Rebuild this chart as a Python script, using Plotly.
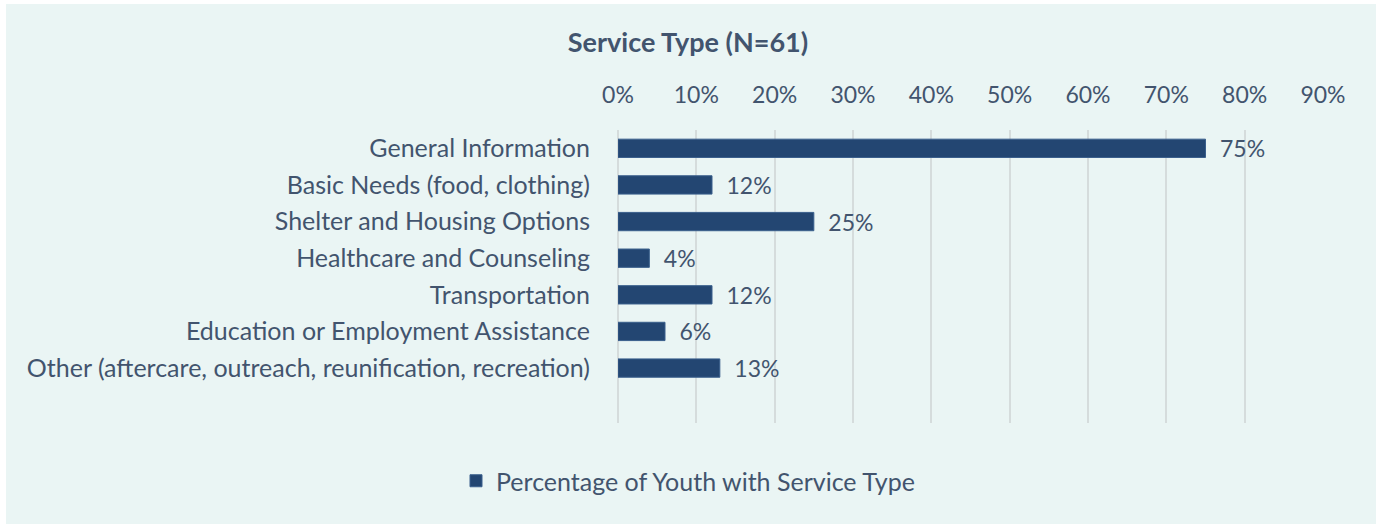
import plotly.graph_objects as go

# Chart data
categories = [
    "General Information",
    "Basic Needs (food, clothing)",
    "Shelter and Housing Options",
    "Healthcare and Counseling",
    "Transportation",
    "Education or Employment Assistance",
    "Other (aftercare, outreach, reunification, recreation)",
]
percentages = [75, 12, 25, 4, 12, 6, 13]
tick_values = [0, 10, 20, 30, 40, 50, 60, 70, 80, 90]
tick_labels = [f"{v}%" for v in tick_values]
series_name = "Percentage of Youth with Service Type"

BAR = "#234672"
TEXT = "#42546E"
BG = "#EAF5F4"
GRID = "#D5DCDC"
FONT = "Lato"
W, H = 1376, 524

fig = go.Figure()
fig.add_trace(go.Bar(
    y=categories,
    x=[p / 100 for p in percentages],
    orientation="h",
    name=series_name,
    width=0.5,
    marker=dict(color=BAR, line=dict(color="#3A5F8C", width=1)),
    text=[f"\u2002{p}%" for p in percentages],
    textposition="outside",
    constraintext="none",
    textfont=dict(family=FONT, size=23, color=TEXT),
    cliponaxis=False,
    showlegend=True,
))

fig.update_layout(
    width=W,
    height=H,
    paper_bgcolor="white",
    plot_bgcolor=BG,
    margin=dict(l=618, r=53, t=130, b=101),
    bargap=0.5,
    title=dict(
        text="<b>Service Type (N=61)</b>",
        x=0.5, xref="container", xanchor="center",
        y=1 - 43 / H, yref="container", yanchor="middle",
        font=dict(family=FONT, size=27, color=TEXT),
    ),
    xaxis=dict(
        side="top",
        range=[0, 0.9],
        tickvals=[v / 100 for v in tick_values],
        ticktext=tick_labels,
        tickfont=dict(family=FONT, size=23, color=TEXT),
        showgrid=True,
        gridcolor=GRID,
        gridwidth=1.5,
        zeroline=True,
        zerolinecolor=GRID,
        zerolinewidth=1.5,
        showline=False,
        ticks="outside",
        ticklen=17,
        tickcolor=BG,
        fixedrange=True,
    ),
    yaxis=dict(
        type="category",
        categoryorder="array",
        categoryarray=categories,
        range=[7.5, -0.5],
        tickfont=dict(family=FONT, size=25, color=TEXT),
        showgrid=False,
        zeroline=False,
        showline=False,
        ticks="outside",
        ticklen=22,
        tickcolor=BG,
    ),
    legend=dict(
        orientation="h",
        x=0.5, xref="container", xanchor="center",
        y=1 - 481 / H, yref="container", yanchor="middle",
        font=dict(family=FONT, size=25, color=TEXT),
        bgcolor="rgba(0,0,0,0)",
        itemwidth=30,
    ),
    shapes=[dict(
        type="rect", xref="paper", yref="paper", layer="below",
        x0=-612 / 705, x1=1 + 53 / 705, y0=-101 / 293, y1=1 + 126 / 293,
        fillcolor=BG, line=dict(width=0),
    )],
)

fig.write_html("out.html")
